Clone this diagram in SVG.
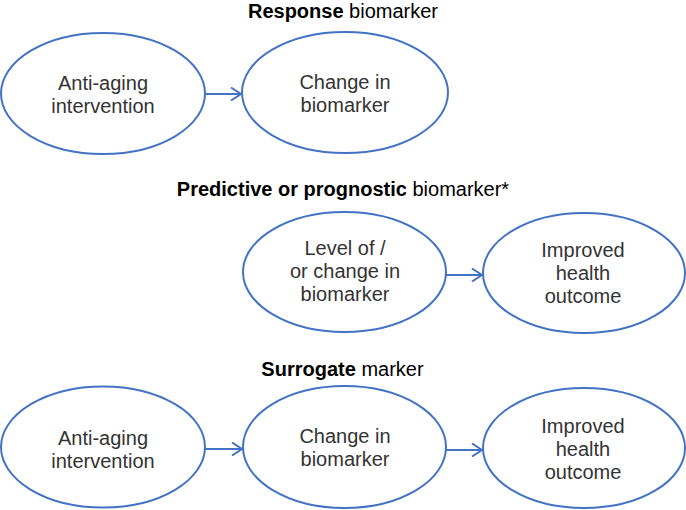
<svg xmlns="http://www.w3.org/2000/svg" width="686" height="510" viewBox="0 0 686 510">
<defs>
<style>
.node ellipse{fill:#fff;stroke:#4472C4;stroke-width:2}
.node text{font-family:"Liberation Sans",Arial,sans-serif;font-size:20px;fill:#333;text-anchor:middle}
.title{font-family:"Liberation Sans",Arial,sans-serif;font-size:20px;fill:#000;text-anchor:middle}
.title .b{font-weight:bold}
#connectors line{stroke:#4472C4;stroke-width:2;fill:none}
</style>
<marker id="arr" viewBox="0 0 12 14" refX="11" refY="7" markerWidth="12" markerHeight="14" markerUnits="userSpaceOnUse" orient="auto">
<path d="M1,0.5 L11,7 L1,13.5" fill="none" stroke="#4472C4" stroke-width="2"/>
</marker>
</defs>
<rect width="686" height="510" fill="#fff"/>
<text class="title" x="343" y="17.5"><tspan class="b">Response</tspan> biomarker</text>
<text class="title" x="343" y="196"><tspan class="b">Predictive or prognostic</tspan> biomarker*</text>
<text class="title" x="342.5" y="376"><tspan class="b">Surrogate</tspan> marker</text>
<g id="r1a" class="node"><ellipse cx="103" cy="93.5" rx="102" ry="60.5"/><text x="103" y="90">Anti-aging</text><text x="103" y="113">intervention</text></g>
<g id="r1b" class="node"><ellipse cx="345" cy="92.5" rx="103" ry="60.5"/><text x="345" y="88.5">Change in</text><text x="345" y="111.5">biomarker</text></g>
<g id="r2a" class="node"><ellipse cx="344.5" cy="272" rx="101.5" ry="60"/><text x="345" y="255">Level of /</text><text x="345" y="278">or change in</text><text x="345" y="301">biomarker</text></g>
<g id="r2b" class="node"><ellipse cx="584" cy="273" rx="101" ry="60"/><text x="583" y="257">Improved</text><text x="583" y="280">health</text><text x="583" y="303">outcome</text></g>
<g id="r3a" class="node"><ellipse cx="103" cy="447" rx="102" ry="60.5"/><text x="103" y="445">Anti-aging</text><text x="103" y="468">intervention</text></g>
<g id="r3b" class="node"><ellipse cx="344.5" cy="447" rx="101.5" ry="61"/><text x="345" y="443">Change in</text><text x="345" y="466">biomarker</text></g>
<g id="r3c" class="node"><ellipse cx="584" cy="448" rx="101" ry="60"/><text x="583" y="433">Improved</text><text x="583" y="456">health</text><text x="583" y="479">outcome</text></g>
<g id="connectors">
<line x1="205" y1="94" x2="241" y2="94" marker-end="url(#arr)"/>
<line x1="446" y1="275" x2="482" y2="275" marker-end="url(#arr)"/>
<line x1="205" y1="449" x2="242" y2="449" marker-end="url(#arr)"/>
<line x1="446" y1="450" x2="482" y2="450" marker-end="url(#arr)"/>
</g>
</svg>
